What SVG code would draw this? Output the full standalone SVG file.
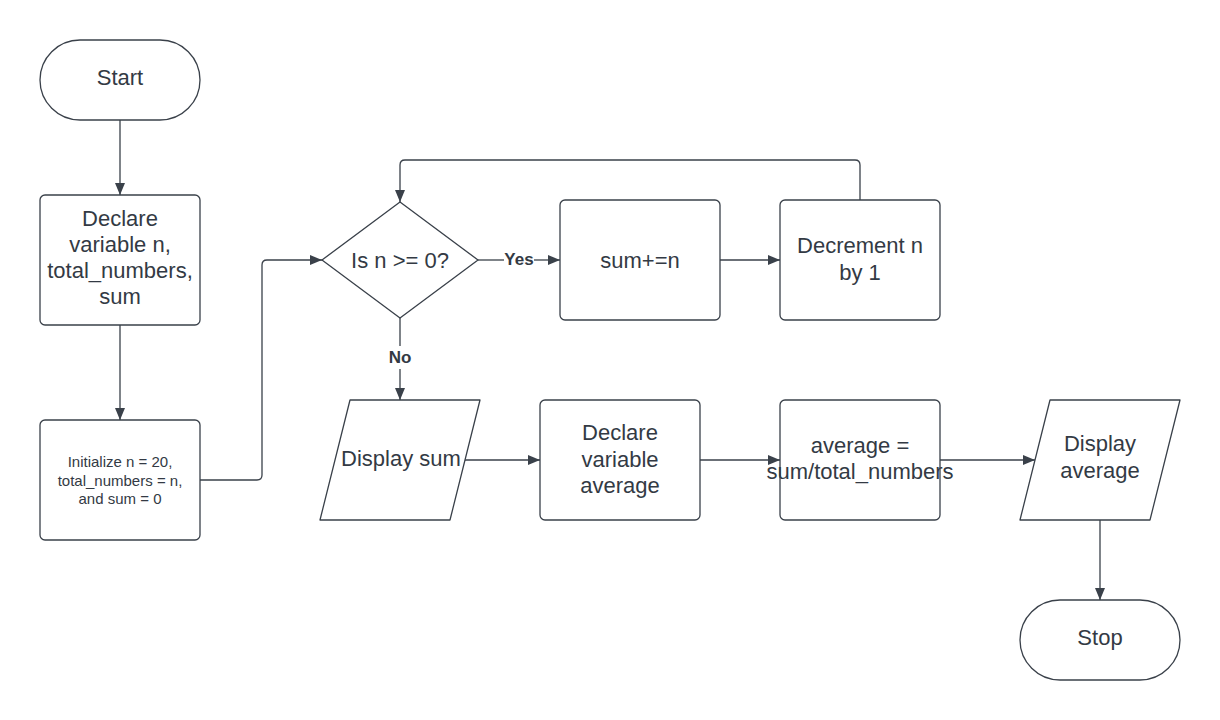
<svg xmlns="http://www.w3.org/2000/svg" width="1220" height="720" viewBox="0 0 1220 720">
<defs>
<style>
.s{fill:#ffffff;stroke:#3a414a;stroke-width:1.3}
.t{font-family:"Liberation Sans",Arial,sans-serif;font-size:22px;fill:#333a44;text-anchor:middle;dominant-baseline:central}
.sm{font-size:15px}
.b{font-weight:bold;font-size:17px}
.c{fill:none;stroke:#3a414a;stroke-width:1.3}
</style>
<marker id="a" viewBox="0 0 12 10" refX="12" refY="5" markerWidth="12" markerHeight="10" markerUnits="userSpaceOnUse" orient="auto">
<path d="M0,0 L12,5 L0,10 Z" fill="#3a414a"/>
</marker>
</defs>
<rect width="1220" height="720" fill="#ffffff"/>
<g id="connectors">
<path class="c" d="M120,120 V195" marker-end="url(#a)"/>
<path class="c" d="M120,325 V420" marker-end="url(#a)"/>
<path class="c" d="M200,480 H257 Q262,480 262,475 V265 Q262,260 267,260 H322" marker-end="url(#a)"/>
<path class="c" d="M478,260 H504"/>
<path class="c" d="M534,260 H560" marker-end="url(#a)"/>
<path class="c" d="M720,260 H780" marker-end="url(#a)"/>
<path class="c" d="M860,200 V165 Q860,160 855,160 H405 Q400,160 400,165 V202" marker-end="url(#a)"/>
<path class="c" d="M400,318 V346"/>
<path class="c" d="M400,369 V400" marker-end="url(#a)"/>
<path class="c" d="M465,460 H540" marker-end="url(#a)"/>
<path class="c" d="M700,460 H780" marker-end="url(#a)"/>
<path class="c" d="M940,460 H1035" marker-end="url(#a)"/>
<path class="c" d="M1100,520 V600" marker-end="url(#a)"/>
<text class="t b" x="519" y="259">Yes</text>
<text class="t b" x="400" y="357">No</text>
</g>
<g id="start">
<rect class="s" x="40" y="40" width="160" height="80" rx="40"/>
<text class="t" x="120" y="77">Start</text>
</g>
<g id="declare">
<rect class="s" x="40" y="195" width="160" height="130" rx="5"/>
<text class="t" x="120" y="218">Declare</text>
<text class="t" x="120" y="244">variable n,</text>
<text class="t" x="120" y="270">total_numbers,</text>
<text class="t" x="120" y="296">sum</text>
</g>
<g id="init">
<rect class="s" x="40" y="420" width="160" height="120" rx="5"/>
<text class="t sm" x="120" y="461">Initialize n = 20,</text>
<text class="t sm" x="120" y="480">total_numbers = n,</text>
<text class="t sm" x="120" y="498">and sum = 0</text>
</g>
<g id="decision">
<path class="s" d="M400,202 L478,260 L400,318 L322,260 Z" stroke-linejoin="round"/>
<text class="t" x="400" y="260">Is n &gt;= 0?</text>
</g>
<g id="sum">
<rect class="s" x="560" y="200" width="160" height="120" rx="5"/>
<text class="t" x="640" y="260">sum+=n</text>
</g>
<g id="decrement">
<rect class="s" x="780" y="200" width="160" height="120" rx="5"/>
<text class="t" x="860" y="245">Decrement n</text>
<text class="t" x="860" y="272">by 1</text>
</g>
<g id="display-sum">
<path class="s" d="M350,400 L480,400 L450,520 L320,520 Z" stroke-linejoin="round"/>
<text class="t" x="401" y="458">Display sum</text>
</g>
<g id="declare-avg">
<rect class="s" x="540" y="400" width="160" height="120" rx="5"/>
<text class="t" x="620" y="432">Declare</text>
<text class="t" x="620" y="459">variable</text>
<text class="t" x="620" y="485">average</text>
</g>
<g id="compute-avg">
<rect class="s" x="780" y="400" width="160" height="120" rx="5"/>
<text class="t" x="860" y="445">average =</text>
<text class="t" x="860" y="471">sum/total_numbers</text>
</g>
<g id="display-avg">
<path class="s" d="M1050,400 L1180,400 L1150,520 L1020,520 Z" stroke-linejoin="round"/>
<text class="t" x="1100" y="443">Display</text>
<text class="t" x="1100" y="470">average</text>
</g>
<g id="stop">
<rect class="s" x="1020" y="600" width="160" height="80" rx="40"/>
<text class="t" x="1100" y="637">Stop</text>
</g>
</svg>
